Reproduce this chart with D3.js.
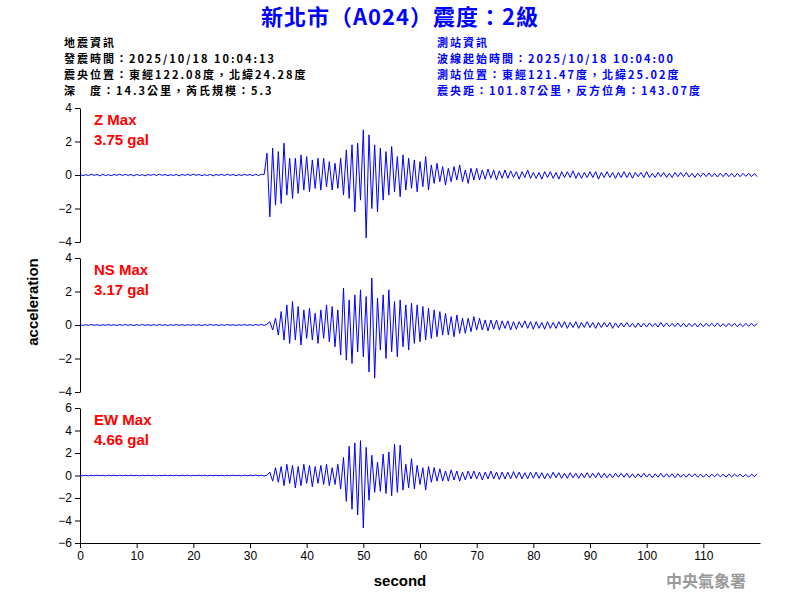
<!DOCTYPE html><html><head><meta charset="utf-8"><script src="https://cdn.jsdelivr.net/npm/d3@7"></script>
<style>body{margin:0;background:#fff}text{font-family:Arial,"Liberation Sans",sans-serif}</style></head><body><svg id="c" width="800" height="600"></svg><script>
const dt = 0.5;
const xTicks = [0,10,20,30,40,50,60,70,80,90,100,110];
const zVals = [
0.03,-0.04,0.02,-0.03,0.05,-0.02,0.03,-0.05,0.04,-0.03,
0.02,-0.04,0.03,-0.02,0.05,-0.03,0.04,-0.02,0.03,-0.05,
0.04,-0.03,0.02,-0.05,0.03,-0.02,0.04,-0.03,0.05,-0.02,
0.03,-0.04,0.02,-0.03,0.04,-0.05,0.03,-0.02,0.04,-0.03,
0.05,-0.02,0.03,-0.04,0.02,-0.03,0.04,-0.05,0.03,-0.02,
0.04,-0.03,0.05,-0.02,0.03,-0.04,0.02,-0.03,0.04,-0.02,
0.03,-0.04,0.05,-0.03,0.04,0.03,1.3,-2.5,1.6,-1.8,
1.4,-1.7,1.9,-1.2,1.0,-1.4,1.0,-1.1,1.2,-0.9,
1.1,-1.0,0.9,-0.8,1.0,-0.9,1.0,-0.7,0.8,-0.9,
0.7,-0.8,1.0,-1.2,1.5,-1.4,1.8,-2.2,1.9,-1.5,
2.7,-3.75,2.4,-2.0,1.8,-2.2,1.6,-1.5,1.4,-1.2,
1.7,-1.0,1.1,-1.3,1.2,-0.9,1.0,-0.8,0.9,-1.0,
0.8,-0.7,1.1,-0.9,0.6,-0.5,0.7,-0.4,0.5,-0.6,
0.4,-0.4,0.5,-0.3,0.6,-0.4,0.3,-0.5,0.4,-0.3,
0.4,-0.3,0.3,-0.25,0.35,-0.2,0.3,-0.3,0.25,-0.2,
0.3,-0.2,0.25,-0.15,0.2,-0.25,0.2,-0.15,0.3,-0.2,
0.15,-0.2,0.15,-0.25,0.2,-0.15,0.2,-0.2,0.15,-0.25,
0.2,-0.15,0.2,-0.15,0.25,-0.2,0.15,-0.2,0.15,-0.15,
0.2,-0.15,0.2,-0.25,0.15,-0.15,0.2,-0.15,0.15,-0.2,
0.15,-0.15,0.2,-0.15,0.15,-0.2,0.15,-0.1,0.15,-0.15,
0.2,-0.15,0.1,-0.15,0.15,-0.1,0.15,-0.15,0.1,-0.15,
0.15,-0.1,0.15,-0.1,0.15,-0.12,0.1,-0.15,0.1,-0.1,
0.12,-0.1,0.12,-0.1,0.1,-0.12,0.1,-0.1,0.12,-0.1,
0.1,-0.12,0.1,-0.1,0.1,-0.08,0.1,-0.1,0.08,-0.1];
const nsVals = [
0.02,-0.03,0.02,-0.02,0.03,-0.02,0.02,-0.03,0.02,-0.02,
0.03,-0.02,0.02,-0.03,0.02,-0.02,0.03,-0.02,0.02,-0.03,
0.02,-0.02,0.03,-0.02,0.02,-0.03,0.02,-0.02,0.03,-0.02,
0.02,-0.03,0.02,-0.02,0.03,-0.02,0.02,-0.03,0.02,-0.02,
0.03,-0.02,0.02,-0.03,0.02,-0.02,0.03,-0.02,0.02,-0.03,
0.02,-0.02,0.03,-0.02,0.02,-0.03,0.02,-0.02,0.03,-0.02,
0.02,-0.03,0.03,-0.02,0.04,-0.03,0.05,0.2,-0.3,0.4,
-0.6,0.8,-0.9,1.2,-1.1,1.4,-0.9,1.1,-1.2,0.9,
-0.8,1.0,-0.9,0.7,-1.1,0.9,-0.8,1.2,-1.0,1.1,
-1.3,0.9,-1.8,2.2,-2.1,1.5,-2.3,1.8,-1.6,2.1,
-1.9,1.7,-2.8,2.8,-3.17,1.6,-1.5,1.8,-2.0,2.1,
-1.6,1.4,-1.9,1.5,-1.3,1.2,-1.5,1.3,-1.1,1.2,
-1.0,1.1,-0.9,1.0,-0.8,0.9,-0.7,0.8,-0.6,0.7,
-0.6,0.5,-0.7,0.6,-0.5,0.4,-0.5,0.4,-0.4,0.5,
-0.3,0.4,-0.3,0.3,-0.35,0.3,-0.25,0.3,-0.3,0.25,
-0.2,0.25,-0.3,0.2,-0.25,0.2,-0.15,0.25,-0.2,0.2,
-0.25,0.2,-0.2,0.15,-0.25,0.2,-0.2,0.15,-0.2,0.2,
-0.15,0.2,-0.2,0.15,-0.15,0.2,-0.2,0.15,-0.15,0.2,
-0.15,0.15,-0.2,0.15,-0.15,0.15,-0.12,0.15,-0.2,0.12,
-0.15,0.12,-0.12,0.15,-0.12,0.1,-0.15,0.12,-0.12,0.1,
-0.12,0.12,-0.1,0.1,-0.12,0.15,-0.1,0.12,-0.1,0.1,
-0.1,0.12,-0.1,0.1,-0.12,0.1,-0.1,0.1,-0.12,0.1,
-0.1,0.1,-0.08,0.1,-0.1,0.12,-0.1,0.08,-0.1,0.1,
-0.08,0.1,-0.1,0.08,-0.1,0.1,-0.08,0.1,-0.08,0.1];
const ewVals = [
0.03,-0.02,0.02,-0.03,0.02,-0.02,0.03,-0.02,0.02,-0.03,
0.02,-0.02,0.03,-0.02,0.02,-0.03,0.02,-0.02,0.03,-0.02,
0.02,-0.03,0.02,-0.02,0.03,-0.02,0.02,-0.03,0.02,-0.02,
0.03,-0.02,0.02,-0.03,0.02,-0.02,0.03,-0.02,0.02,-0.03,
0.02,-0.02,0.03,-0.02,0.02,-0.03,0.02,-0.02,0.03,-0.02,
0.02,-0.03,0.02,-0.02,0.03,-0.02,0.02,-0.03,0.02,-0.02,
0.03,-0.02,0.04,-0.03,0.02,-0.05,0.03,0.3,-0.5,0.7,
-0.6,0.8,-0.9,1.0,-0.7,0.9,-1.1,0.8,-0.9,1.0,
-0.7,0.9,-1.0,0.8,-0.7,0.9,-0.8,1.0,-0.9,0.7,
-0.8,1.0,-1.2,1.6,-2.3,2.6,-3.0,2.9,-3.5,3.1,
-4.66,2.5,-2.2,1.8,-1.5,1.2,-1.4,1.9,-1.6,2.1,
-1.8,2.8,-1.5,2.7,-1.3,1.0,-1.1,1.5,-1.2,0.9,
-0.8,0.7,-1.3,0.8,-0.6,0.7,-0.5,0.6,-0.5,0.4,
-0.5,0.5,-0.4,0.4,-0.5,0.3,-0.4,0.4,-0.3,0.4,
-0.3,0.3,-0.4,0.3,-0.3,0.4,-0.3,0.3,-0.35,0.3,
-0.3,0.3,-0.3,0.35,-0.25,0.3,-0.3,0.25,-0.3,0.3,
-0.25,0.3,-0.25,0.25,-0.3,0.2,-0.25,0.3,-0.2,0.25,
-0.25,0.2,-0.25,0.25,-0.2,0.2,-0.25,0.2,-0.2,0.25,
-0.2,0.2,-0.2,0.25,-0.2,0.2,-0.2,0.15,-0.2,0.2,
-0.15,0.2,-0.15,0.2,-0.2,0.15,-0.2,0.15,-0.15,0.2,
-0.15,0.15,-0.2,0.15,-0.15,0.2,-0.15,0.15,-0.15,0.15,
-0.2,0.15,-0.15,0.12,-0.15,0.15,-0.12,0.15,-0.15,0.12,
-0.15,0.12,-0.15,0.12,-0.12,0.15,-0.12,0.12,-0.15,0.12,
-0.12,0.12,-0.1,0.12,-0.12,0.1,-0.15,0.12,-0.1,0.12];
const panels = [
 {name:"Z", vals:zVals, max:"3.75 gal", dom:[-4,4], ticks:[-4,-2,0,2,4], top:108, bot:242},
 {name:"NS", vals:nsVals, max:"3.17 gal", dom:[-4,4], ticks:[-4,-2,0,2,4], top:258, bot:392},
 {name:"EW", vals:ewVals, max:"4.66 gal", dom:[-6,6], ticks:[-6,-4,-2,0,2,4,6], top:408, bot:543}];
const svg = d3.select("#c");
const x = d3.scaleLinear().domain([0,120]).range([80,760]);
panels.forEach((p,k)=>{
  const y = d3.scaleLinear().domain(p.dom).range([p.bot,p.top]);
  const g = svg.append("g").attr("transform","translate(80,0)")
    .call(d3.axisLeft(y).tickValues(p.ticks).tickSize(5).tickSizeOuter(0).tickPadding(3));
  g.selectAll("text").attr("font-size",12).attr("font-family","Arial");
  g.selectAll("line,path").attr("stroke","#000");
  svg.append("path").datum(p.vals).attr("fill","none").attr("stroke","#0000ff").attr("stroke-width",1)
    .attr("d", d3.line().x((d,i)=>x(i*dt)).y(d=>y(d)));
  svg.append("text").attr("x",94).attr("y",p.top+17).attr("fill","#f00").attr("font-size",15).attr("font-weight","bold").text(p.name+" Max");
  svg.append("text").attr("x",94).attr("y",p.top+37).attr("fill","#f00").attr("font-size",15).attr("font-weight","bold").text(p.max);
  if(k===2){
    const gx = svg.append("g").attr("transform",`translate(0,${p.bot})`)
      .call(d3.axisBottom(x).tickValues(xTicks).tickSize(5).tickSizeOuter(0));
    gx.selectAll("text").attr("font-size",12).attr("font-family","Arial");
  }
});
svg.append("text").attr("x",400).attr("y",586).attr("text-anchor","middle").attr("font-size",15).attr("font-weight","bold").text("second");
svg.append("text").attr("transform","translate(38,302) rotate(-90)").attr("text-anchor","middle").attr("font-size",15).attr("font-weight","bold").text("acceleration");
const cjk = '"Noto Sans CJK TC",sans-serif';
svg.append("text").attr("x",400).attr("y",25).attr("text-anchor","middle").attr("fill","#0000ff").attr("font-size",22).attr("font-weight","bold").style("font-family",cjk).style("letter-spacing","1px").text("新北市（A024）震度：2級");
const leftInfo = ["地震資訊","發震時間：2025/10/18 10:04:13","震央位置：東經122.08度，北緯24.28度","深　度：14.3公里，芮氏規模：5.3"];
const rightInfo = ["測站資訊","波線起始時間：2025/10/18 10:04:00","測站位置：東經121.47度，北緯25.02度","震央距：101.87公里，反方位角：143.07度"];
leftInfo.forEach((t,i)=>svg.append("text").attr("x",64).attr("y",47+i*16).attr("font-size",11).attr("font-weight","bold").style("letter-spacing","2px").style("font-family",cjk).attr("fill","#000").text(t));
rightInfo.forEach((t,i)=>svg.append("text").attr("x",437).attr("y",47+i*16).attr("font-size",11).attr("font-weight","bold").style("letter-spacing","2px").style("font-family",cjk).attr("fill","#0000ff").text(t));
svg.append("text").attr("x",746).attr("y",587).attr("text-anchor","end").attr("fill","#999").attr("font-size",16).attr("font-weight","bold").style("font-family",cjk).text("中央氣象署");
</script></body></html>
